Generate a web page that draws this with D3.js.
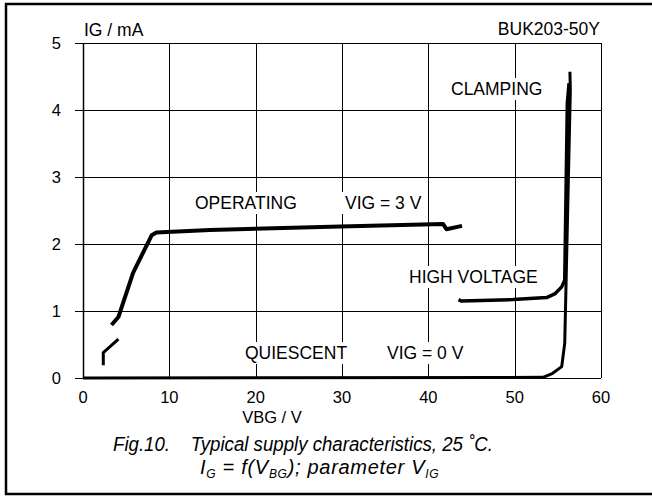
<!DOCTYPE html>
<html>
<head>
<meta charset="utf-8">
<script src="https://cdn.jsdelivr.net/npm/d3@7"></script>
<style>
  body { margin: 0; background: #fff; }
  text { font-family: "Liberation Sans", Arial, sans-serif; fill: #000; }
</style>
</head>
<body>
<svg id="chart" width="652" height="497"></svg>
<script>
// tick values
const xTicks = [0, 10, 20, 30, 40, 50, 60];
const yTicks = [0, 1, 2, 3, 4, 5];

// operating curve, VIG = 3 V
const opV = [3.3, 4.1, 5.8, 7.95, 8.5, 14.7, 29.8, 41.7, 42.1, 43.9];
const opI = [0.79, 0.91, 1.57, 2.13, 2.17, 2.21, 2.26, 2.30, 2.22, 2.27];

// short start-up piece below the operating curve
const lowV = [2.35, 2.35, 4.1];
const lowI = [0.19, 0.38, 0.58];

// high voltage curve running into clamping
const hvV = [43.5, 43.8, 49.8, 53.7, 54.7, 55.45, 55.8, 56.1, 56.3];
const hvI = [1.17, 1.15, 1.17, 1.2, 1.26, 1.36, 1.46, 4.1, 4.4];

// quiescent curve, VIG = 0 V
const qV = [0, 53.3, 54.4, 55.45, 55.8, 56.45, 56.4];
const qI = [0, 0.01, 0.07, 0.17, 0.52, 4.3, 4.57];

const margin = {top: 43, left: 83, right: 51, bottom: 119};
const width = 652, height = 497;

const svg = d3.select("#chart");

const x = d3.scaleLinear().domain([0, 60]).range([margin.left, width - margin.right]);
const y = d3.scaleLinear().domain([0, 5]).range([height - margin.bottom, margin.top]);

// outer frame
svg.append("rect")
    .attr("x", 6).attr("y", 4)
    .attr("width", 660).attr("height", 490)
    .attr("fill", "none")
    .attr("stroke", "#000")
    .attr("stroke-width", 2.5);

// grid
svg.append("g").selectAll("line")
    .data(xTicks)
    .join("line")
    .attr("x1", d => Math.round(x(d)) + 0.5)
    .attr("x2", d => Math.round(x(d)) + 0.5)
    .attr("y1", y(0))
    .attr("y2", y(5))
    .attr("stroke", "#000")
    .attr("stroke-width", 1);

svg.append("g").selectAll("line")
    .data(yTicks)
    .join("line")
    .attr("x1", x(0) - 8)
    .attr("x2", x(60))
    .attr("y1", d => Math.round(y(d)) + 0.5)
    .attr("y2", d => Math.round(y(d)) + 0.5)
    .attr("stroke", "#000")
    .attr("stroke-width", 1);

// left axis a bit heavier
svg.append("line")
    .attr("x1", x(0) + 0.5).attr("x2", x(0) + 0.5)
    .attr("y1", y(0)).attr("y2", y(5))
    .attr("stroke", "#000").attr("stroke-width", 1.5);

// tick labels
svg.append("g").selectAll("text")
    .data(yTicks)
    .join("text")
    .attr("x", 61)
    .attr("y", d => y(d) + 6)
    .attr("text-anchor", "end")
    .attr("font-size", 16.5)
    .text(d => d);

svg.append("g").selectAll("text")
    .data(xTicks)
    .join("text")
    .attr("x", d => x(d))
    .attr("y", 403)
    .attr("text-anchor", "middle")
    .attr("font-size", 16.5)
    .text(d => d);

// labels, with white backing that cuts the grid
function label(txt, lx, ly, anchor) {
    const g = svg.append("g");
    const bg = g.append("rect").attr("fill", "#fff");
    const t = g.append("text")
        .attr("x", lx).attr("y", ly)
        .attr("text-anchor", anchor || "start")
        .attr("font-size", 17.5)
        .text(txt);
    const b = t.node().getBBox();
    bg.attr("x", b.x - 3).attr("y", b.y - 1)
      .attr("width", b.width + 6).attr("height", b.height + 2);
}

label("IG / mA", 84, 36);
label("BUK203-50Y", 600, 35, "end");
label("CLAMPING", 451, 95);
label("OPERATING", 195, 209);
label("VIG = 3 V", 345, 209);
label("HIGH VOLTAGE", 409, 283);
label("QUIESCENT", 245, 359);
label("VIG = 0 V", 387, 359);

svg.append("text")
    .attr("x", 272).attr("y", 423)
    .attr("text-anchor", "middle")
    .attr("font-size", 16.5)
    .text("VBG / V");

// curves
const line = d3.line()
    .x(d => x(d[0]))
    .y(d => y(d[1]));

function curve(vs, is, w) {
    svg.append("path")
        .datum(vs.map((v, i) => [v, is[i]]))
        .attr("d", line)
        .attr("fill", "none")
        .attr("stroke", "#000")
        .attr("stroke-width", w)
        .attr("stroke-linejoin", "round");
}

curve(qV, qI, 3);
curve(hvV, hvI, 3.5);
curve(lowV, lowI, 3);
curve(opV, opI, 4);

// caption
svg.append("text")
    .attr("x", 113).attr("y", 451)
    .attr("font-size", 20)
    .attr("font-style", "italic")
    .attr("textLength", 380)
    .attr("lengthAdjust", "spacingAndGlyphs")
    .text("Fig.10.\u00A0\u00A0\u00A0 Typical supply characteristics, 25 \u02DAC.");

const cap2 = svg.append("text")
    .attr("x", 200).attr("y", 474)
    .attr("font-size", 20)
    .attr("font-style", "italic")
    .attr("letter-spacing", 0.7);
cap2.append("tspan").text("I");
cap2.append("tspan").attr("font-size", 12).attr("dy", 4).text("G");
cap2.append("tspan").attr("dy", -4).text(" = f(V");
cap2.append("tspan").attr("font-size", 12).attr("dy", 4).text("BG");
cap2.append("tspan").attr("dy", -4).text("); parameter V");
cap2.append("tspan").attr("font-size", 12).attr("dy", 4).text("IG");
</script>
</body>
</html>
